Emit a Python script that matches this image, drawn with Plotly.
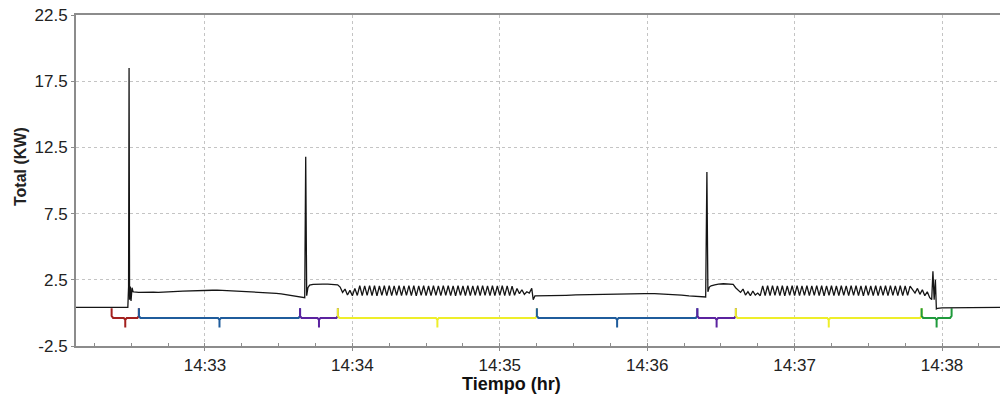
import pandas as pd
import plotly.graph_objects as go

# ---- data (seconds relative to 14:33:00, power in kW) ----
off1_t = [-52.5, -45, -38, -33, -31.4]
off1_v = [0.42, 0.41, 0.42, 0.40, 0.42]

spike1_t = [-31.1, -30.9, -30.7, -30.4, -30.1, -29.7, -29.3]
spike1_v = [2.0, 18.5, 1.0, 2.0, 0.9, 1.9, 1.6]

hold1_t = [-29, -27, -25, -23, -21, -19, -17, -15, -13, -11, -9, -7, -5, -3, -1,
           1, 3, 5, 7, 9, 11, 13, 15, 17, 19, 21, 23, 25, 27, 29, 31, 33, 35, 37, 39]
hold1_v = [1.58, 1.55, 1.57, 1.54, 1.56, 1.55, 1.58, 1.57, 1.60, 1.62, 1.64, 1.66, 1.68, 1.70, 1.72,
           1.73, 1.71, 1.72, 1.70, 1.71, 1.69, 1.68, 1.66, 1.65, 1.62, 1.60, 1.58, 1.55, 1.52, 1.48,
           1.44, 1.38, 1.32, 1.24, 1.18]

spike2_t = [40.6, 41.0, 41.4, 41.9, 42.6]
spike2_v = [1.15, 11.8, 1.3, 1.9, 2.1]

high1_t = [44, 46, 48, 50, 52, 54]
high1_v = [2.15, 2.18, 2.17, 2.18, 2.16, 2.12]

trans1_t = [55, 56, 57, 58, 59, 60, 61]
trans1_v = [1.95, 1.55, 1.8, 1.35, 1.7, 1.3, 1.85]

osc1_t = list(range(62, 127))
osc1_v = [1.32, 2.05, 1.30, 2.04, 1.33, 2.06, 1.31, 2.05, 1.29, 2.03, 1.32, 2.05, 1.30, 2.06,
          1.31, 2.04, 1.33, 2.05, 1.30, 2.04, 1.32, 2.06, 1.31, 2.05, 1.29, 2.04, 1.32, 2.05,
          1.30, 2.03, 1.31, 2.05, 1.33, 2.04, 1.30, 2.06, 1.32, 2.05, 1.31, 2.04, 1.29, 2.05,
          1.32, 2.03, 1.30, 2.05, 1.31, 2.04, 1.33, 2.05, 1.30, 2.06, 1.32, 2.04, 1.31, 2.05,
          1.30, 2.03, 1.32, 2.05, 1.31, 2.04, 1.30, 2.02, 1.33]

trans2_t = [127, 128, 129, 130, 131, 132, 133, 133.6, 134.3]
trans2_v = [1.85, 1.45, 1.75, 1.4, 1.6, 1.5, 1.85, 1.0, 1.28]

hold2_t = [135, 139, 143, 147, 151, 155, 159, 163, 167, 171, 175, 179, 183, 187, 191, 194, 197, 200, 203]
hold2_v = [1.28, 1.30, 1.31, 1.33, 1.36, 1.38, 1.40, 1.42, 1.44, 1.46, 1.46, 1.45, 1.46, 1.44,
           1.42, 1.35, 1.28, 1.25, 1.22]

spike3_t = [203.8, 204.3, 204.7, 205.3, 206, 207.5]
spike3_v = [1.2, 10.65, 1.6, 1.95, 2.05, 2.12]

high2_t = [209, 211, 213, 215]
high2_v = [2.18, 2.2, 2.19, 2.15]

trans3_t = [216, 217, 218, 219, 220, 221, 222, 223, 224, 225, 226]
trans3_v = [1.9, 1.75, 1.55, 1.8, 1.35, 1.6, 1.3, 1.65, 1.35, 1.5, 1.3]

osc2_t = list(range(227, 288))
osc2_v = [2.04, 1.31, 2.05, 1.30, 2.06, 1.32, 2.04, 1.31, 2.05, 1.29, 2.03, 1.32, 2.05, 1.30,
          2.06, 1.31, 2.04, 1.33, 2.05, 1.30, 2.04, 1.32, 2.06, 1.31, 2.05, 1.29, 2.04, 1.32,
          2.05, 1.30, 2.03, 1.31, 2.05, 1.33, 2.04, 1.30, 2.06, 1.32, 2.05, 1.31, 2.04, 1.29,
          2.05, 1.32, 2.03, 1.30, 2.05, 1.31, 2.04, 1.33, 2.05, 1.30, 2.06, 1.32, 2.04, 1.31,
          2.05, 1.30, 2.03, 1.32, 2.02]

trans4_t = [288, 289, 290, 291, 292, 293, 294, 295, 295.8]
trans4_v = [1.8, 1.5, 1.85, 1.4, 1.75, 1.3, 1.6, 1.15, 1.0]

spike4_t = [296.3, 296.8, 297.3, 297.7, 298.2]
spike4_v = [3.15, 1.0, 2.5, 0.3, 0.35]

off2_t = [300, 310, 323.6]
off2_v = [0.38, 0.42, 0.42]

# phases (brackets under the curve)
phase_start = [-38.0, -26.9, 38.7, 54.1, 135.1, 200.4, 216.1, 291.7]
phase_end = [-26.9, 38.7, 54.1, 135.1, 200.4, 216.1, 291.7, 303.9]
phase_color = ["#a3201e", "#1f5c9c", "#5b23a0", "#eeee2a", "#1f5c9c", "#5b23a0", "#eeee2a", "#1f9a3c"]

y_ticks = [-2.5, 2.5, 7.5, 12.5, 17.5, 22.5]
x_range_s = [-52.5, 323.6]

# ---- build ----
base = pd.Timestamp("2024-01-01 14:33:00")


def to_time(sec):
    return base + pd.to_timedelta(pd.Series(sec, dtype=float), unit="s")


t_all = (off1_t + spike1_t + hold1_t + spike2_t + high1_t + trans1_t + osc1_t + trans2_t +
         hold2_t + spike3_t + high2_t + trans3_t + osc2_t + trans4_t + spike4_t + off2_t)
v_all = (off1_v + spike1_v + hold1_v + spike2_v + high1_v + trans1_v + osc1_v + trans2_v +
         hold2_v + spike3_v + high2_v + trans3_v + osc2_v + trans4_v + spike4_v + off2_v)

fig = go.Figure()

# brackets
top, mid, bot = 0.35, -0.38, -1.1
for s, e, c in zip(phase_start, phase_end, phase_color):
    cx = (s + e) / 2
    xs = [s, s, s + 0.6, cx - 0.6, cx, cx, cx, cx + 0.6, e - 0.6, e, e]
    ys = [top, mid + 0.15, mid, mid, mid - 0.15, bot, mid - 0.15, mid, mid, mid + 0.15, top]
    fig.add_trace(go.Scatter(x=to_time(xs), y=ys, mode="lines",
                             line=dict(color=c, width=2), hoverinfo="skip", showlegend=False))

fig.add_trace(go.Scatter(x=to_time(t_all), y=v_all, mode="lines",
                         line=dict(color="#151515", width=1.3), showlegend=False))

grid = "#c4c4c4"
fig.update_layout(
    width=1000, height=400,
    margin=dict(l=76, r=0, t=15, b=54, autoexpand=False),
    paper_bgcolor="white", plot_bgcolor="white",
    font=dict(family="Liberation Sans, Arial, sans-serif", size=17, color="#222222"),
    showlegend=False,
)
fig.update_xaxes(
    type="date", automargin=False,
    range=list(to_time(x_range_s)),
    tickformat="%H:%M", dtick=60000, tick0=base,
    showgrid=True, gridcolor=grid, griddash="dot", gridwidth=1,
    showline=True, linecolor="#8c8c8c", linewidth=2, mirror=True,
    ticks="outside", ticklen=3, tickcolor="#8c8c8c",
    minor=dict(dtick=15000, ticks="inside", ticklen=3, tickcolor="#8c8c8c", showgrid=False),
    tickfont=dict(size=17, color="#222222"),
    zeroline=False,
)
fig.update_yaxes(
    automargin=False, ticklabeloverflow="allow",
    range=[-2.5, 22.5], tickvals=y_ticks, ticktext=[str(v) for v in y_ticks],
    showgrid=True, gridcolor=grid, griddash="dot", gridwidth=1,
    showline=True, linecolor="#8c8c8c", linewidth=2, mirror=False,
    ticks="outside", ticklen=3, tickcolor="#8c8c8c",
    tickfont=dict(size=17, color="#222222"),
    zeroline=False,
)

fig.add_annotation(text="<b>Total (KW)</b>", xref="paper", yref="paper",
                   x=(21 - 76) / 924, y=(346 - 167) / 331, textangle=-90,
                   showarrow=False, font=dict(size=16, color="#222222"),
                   xanchor="center", yanchor="middle")
fig.add_annotation(text="<b>Tiempo (hr)</b>", xref="paper", yref="paper",
                   x=(511 - 76) / 924, y=-(384 - 346) / 331,
                   showarrow=False, font=dict(size=18, color="#111111"),
                   xanchor="center", yanchor="middle")

# remove the default 8px page margin so the 1000x400 figure fills the window
fig.write_html("out.html",
               config={"displayModeBar": False},
               post_script="document.body.style.margin='0';document.body.style.overflow='hidden';")
